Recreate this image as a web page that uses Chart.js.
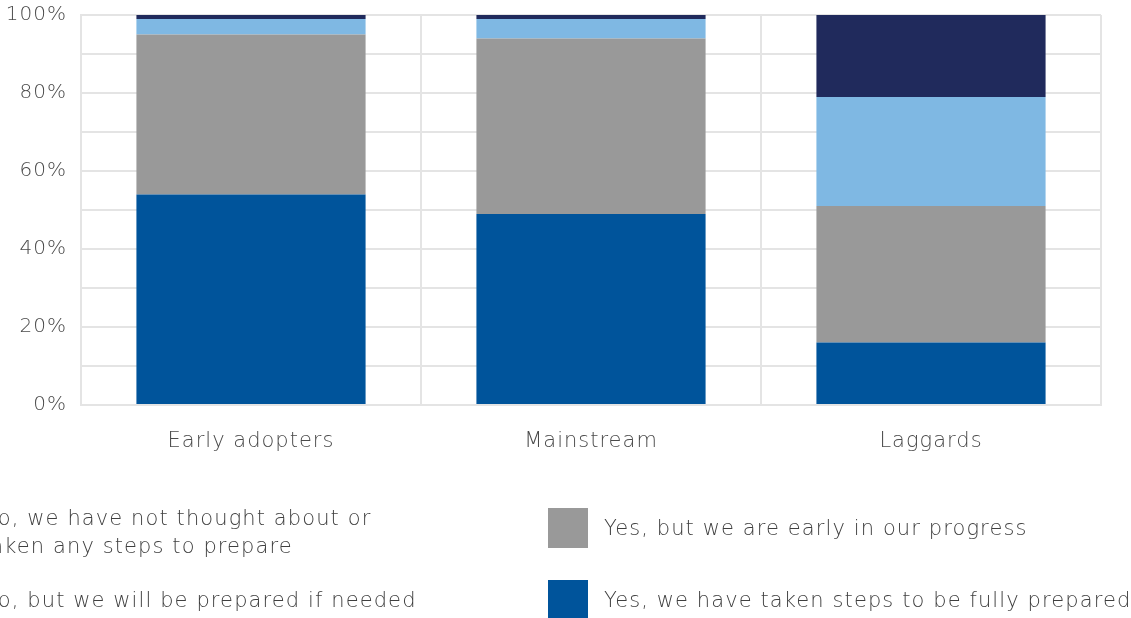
<!DOCTYPE html>
<html>
<head>
<meta charset="utf-8">
<script src="https://cdn.jsdelivr.net/npm/chart.js@4/dist/chart.umd.min.js"></script>
<style>
  html, body { margin: 0; padding: 0; background: #ffffff; overflow: hidden; }
  #wrap { position: relative; width: 1131px; height: 618px; overflow: hidden; }
  #chart { position: absolute; left: 0; top: 0; }
  .legend-item { position: absolute; display: flex; align-items: center; font-family: "DejaVu Sans", sans-serif; font-weight: 300; font-size: 21px; letter-spacing: 1.1px; color: #3f3f3f; line-height: 28px; }
  .legend-item .swatch { width: 40px; height: 40px; flex: 0 0 40px; margin-right: 16px; }
  .legend-item .txt { width: 430px; }
</style>
</head>
<body>
<div id="wrap">
  <canvas id="chart" width="1131" height="618"></canvas>
</div>
<script>
// Segments, stacked from the bottom up
const categories = ['Early adopters', 'Mainstream', 'Laggards'];
const fullyPrepared = [54, 49, 16];
const earlyProgress = [41, 45, 35];
const preparedIfNeeded = [4, 5, 28];
const notThought = [1, 1, 21];

const seriesNames = [
  'Yes, we have taken steps to be fully prepared',
  'Yes, but we are early in our progress',
  'No, but we will be prepared if needed',
  'No, we have not thought about or taken any steps to prepare'
];
const seriesColors = ['#00549b', '#999999', '#7fb8e3', '#202a5c'];
const yTicks = [0, 20, 40, 60, 80, 100];

const seriesValues = [fullyPrepared, earlyProgress, preparedIfNeeded, notThought];

const gridColor = '#e4e4e4';
const fontFamily = '"DejaVu Sans", sans-serif';

// Slightly tracked-out canvas text
const spacing = {
  id: 'spacing',
  beforeUpdate: c => { c.ctx.letterSpacing = '1px'; },
  beforeDraw: c => { c.ctx.letterSpacing = '1px'; }
};

new Chart(document.getElementById('chart'), {
  type: 'bar',
  plugins: [spacing],
  data: {
    labels: categories,
    datasets: seriesValues.map((vals, i) => ({
      label: seriesNames[i],
      data: vals,
      backgroundColor: seriesColors[i],
      borderWidth: 0,
      categoryPercentage: 0.674,
      barPercentage: 1
    }))
  },
  options: {
    responsive: false,
    animation: false,
    layout: { padding: { top: 15, right: 30, bottom: 0, left: 0 } },
    plugins: { legend: { display: false }, tooltip: { enabled: false } },
    scales: {
      x: {
        stacked: true,
        grid: { color: gridColor, lineWidth: 2, drawTicks: false, offset: true },
        border: { color: gridColor, width: 2 },
        ticks: { color: '#4a4a4a', padding: 24, font: { family: fontFamily, size: 21, weight: 300 } },
        afterFit: s => { s.height = 213; }
      },
      y: {
        stacked: true,
        min: 0,
        max: 100,
        grid: { color: gridColor, lineWidth: 2, drawTicks: false },
        border: { color: gridColor, width: 2 },
        ticks: {
          stepSize: 10,
          padding: 14,
          color: '#4a4a4a',
          font: { family: fontFamily, size: 20, weight: 300 },
          callback: v => yTicks.includes(v) ? v + '%' : ''
        },
        afterFit: s => { s.width = 81; s.paddingTop = 0; s.paddingBottom = 0; }
      }
    }
  }
});

// Legend: two columns, newest segment first
const legendSlots = [
  { idx: 3, left: -75, top: 512, width: 430 },
  { idx: 2, left: -75, top: 580, width: 540 },
  { idx: 1, left: 548, top: 508, width: 560 },
  { idx: 0, left: 548, top: 580, width: 560 }
];
const wrap = document.getElementById('wrap');
legendSlots.forEach(slot => {
  const item = document.createElement('div');
  item.className = 'legend-item';
  item.style.left = slot.left + 'px';
  item.style.top = slot.top + 'px';
  item.style.height = '40px';
  const sw = document.createElement('div');
  sw.className = 'swatch';
  sw.style.background = seriesColors[slot.idx];
  const tx = document.createElement('div');
  tx.className = 'txt';
  tx.textContent = seriesNames[slot.idx];
  tx.style.width = slot.width + 'px';
  item.appendChild(sw);
  item.appendChild(tx);
  wrap.appendChild(item);
});
</script>
</body>
</html>
